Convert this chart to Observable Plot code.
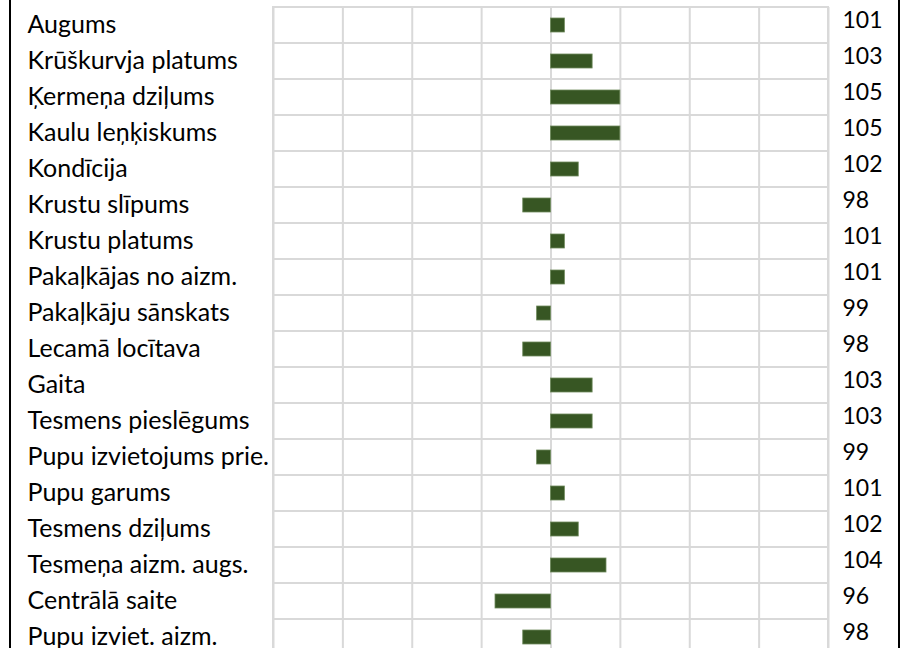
<!DOCTYPE html>
<html>
<head>
<meta charset="utf-8">
<script src="https://cdn.jsdelivr.net/npm/d3@7"></script>
<script src="https://cdn.jsdelivr.net/npm/@observablehq/plot@0.6"></script>
<style>
  html, body { margin: 0; padding: 0; background: #fff; overflow: hidden; }
  #wrap { position: relative; width: 900px; height: 648px; }
  #border { position: absolute; left: 9px; top: 0; width: 887px; height: 648px;
            border-left: 2px solid #000; border-right: 2px solid #000; pointer-events: none; }
</style>
</head>
<body>
<div id="wrap"><div id="chart"></div><div id="border"></div></div>
<script>
const traits = [
  "Augums",
  "Krūškurvja platums",
  "Ķermeņa dziļums",
  "Kaulu leņķiskums",
  "Kondīcija",
  "Krustu slīpums",
  "Krustu platums",
  "Pakaļkājas no aizm.",
  "Pakaļkāju sānskats",
  "Lecamā locītava",
  "Gaita",
  "Tesmens pieslēgums",
  "Pupu izvietojums prie.",
  "Pupu garums",
  "Tesmens dziļums",
  "Tesmeņa aizm. augs.",
  "Centrālā saite",
  "Pupu izviet. aizm."
];
const values = [101, 103, 105, 105, 102, 98, 101, 101, 99, 98, 103, 103, 99, 101, 102, 104, 96, 98];
const baseline = 100;
const xDomain = [80, 120];
const gridTicks = [80, 85, 90, 95, 100, 105, 110, 115, 120];

const data = traits.map((t, i) => ({trait: t, value: values[i]}));

const font = "Lato, 'Noto Sans', sans-serif";

const chart = Plot.plot({
  width: 900,
  height: 648,
  marginLeft: 273,
  marginRight: 72,
  marginTop: 7,
  marginBottom: 0,
  style: {fontFamily: font, background: "#fff", overflow: "hidden"},
  x: {domain: xDomain, axis: null},
  y: {domain: traits, range: [7, 7 + 36 * traits.length], padding: 0, axis: null},
  marks: [
    Plot.barX(data, {x1: xDomain[0], x2: xDomain[1], y: "trait", fill: "none", stroke: "#d9d9d9", strokeWidth: 2}),
    Plot.ruleX(gridTicks, {stroke: "#d9d9d9", strokeWidth: 2, strokeOpacity: 1}),
    Plot.barX(data, {x1: baseline, x2: "value", y: "trait", fill: "#375623", stroke: "#6f8a5c", strokeWidth: 0.8, insetTop: 11, insetBottom: 11}),
    Plot.text(data, {y: "trait", text: "trait", frameAnchor: "left", dx: -246, dy: -1, textAnchor: "start", fontSize: 25, fill: "#000"}),
    Plot.text(data, {y: "trait", text: d => String(d.value), frameAnchor: "right", dx: 14, dy: -5, textAnchor: "start", fontSize: 23, fill: "#000"})
  ]
});
document.getElementById("chart").appendChild(chart);
</script>
</body>
</html>
